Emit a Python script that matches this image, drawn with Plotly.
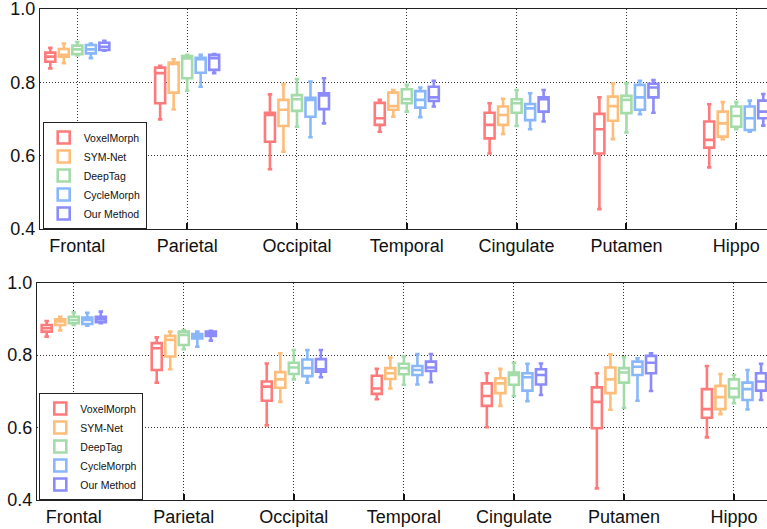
import plotly.graph_objects as go

categories = ["Frontal", "Parietal", "Occipital", "Temporal", "Cingulate", "Putamen", "Hippo"]
methods = ["VoxelMorph", "SYM-Net", "DeepTag", "CycleMorph", "Our Method"]
colors = ["#ff7b7b", "#ffbd7a", "#a3dca8", "#88b8fb", "#8b8bfb"]
y_ticks = [0.4, 0.6, 0.8, 1.0]

# ---- top panel (rows = methods, columns = regions) ----
top_upper = [
    [0.894, 0.845, 0.767, 0.752, 0.743, 0.759, 0.740],
    [0.906, 0.863, 0.795, 0.779, 0.755, 0.797, 0.746],
    [0.910, 0.875, 0.809, 0.793, 0.779, 0.797, 0.746],
    [0.906, 0.875, 0.802, 0.786, 0.770, 0.804, 0.750],
    [0.913, 0.877, 0.811, 0.804, 0.779, 0.806, 0.768],
]
top_q3 = [
    [0.881, 0.840, 0.717, 0.744, 0.717, 0.714, 0.693],
    [0.891, 0.854, 0.752, 0.772, 0.734, 0.761, 0.720],
    [0.900, 0.872, 0.765, 0.781, 0.754, 0.763, 0.734],
    [0.902, 0.867, 0.758, 0.776, 0.741, 0.793, 0.734],
    [0.908, 0.875, 0.770, 0.788, 0.759, 0.796, 0.750],
]
top_median = [
    [0.870, 0.825, 0.711, 0.702, 0.684, 0.672, 0.643],
    [0.875, 0.850, 0.725, 0.735, 0.711, 0.735, 0.688],
    [0.890, 0.865, 0.754, 0.754, 0.743, 0.752, 0.708],
    [0.890, 0.863, 0.752, 0.752, 0.729, 0.759, 0.702],
    [0.897, 0.866, 0.764, 0.759, 0.754, 0.786, 0.720],
]
top_q1 = [
    [0.856, 0.743, 0.638, 0.684, 0.647, 0.606, 0.622],
    [0.870, 0.772, 0.681, 0.725, 0.684, 0.695, 0.652],
    [0.877, 0.811, 0.722, 0.743, 0.717, 0.716, 0.679],
    [0.879, 0.826, 0.706, 0.731, 0.697, 0.725, 0.670],
    [0.888, 0.834, 0.727, 0.749, 0.720, 0.759, 0.702],
]
top_lower = [
    [0.838, 0.699, 0.563, 0.665, 0.606, 0.454, 0.568],
    [0.852, 0.726, 0.611, 0.706, 0.659, 0.645, 0.645],
    [0.873, 0.777, 0.679, 0.720, 0.681, 0.663, 0.672],
    [0.866, 0.788, 0.650, 0.705, 0.672, 0.713, 0.665],
    [0.886, 0.825, 0.688, 0.734, 0.693, 0.717, 0.682],
]

# ---- bottom panel ----
bot_upper = [
    [0.894, 0.849, 0.777, 0.762, 0.750, 0.750, 0.770],
    [0.906, 0.865, 0.805, 0.793, 0.762, 0.802, 0.748],
    [0.918, 0.869, 0.814, 0.796, 0.779, 0.794, 0.745],
    [0.917, 0.865, 0.814, 0.803, 0.776, 0.791, 0.759],
    [0.920, 0.867, 0.814, 0.803, 0.777, 0.805, 0.776],
]
bot_q3 = [
    [0.883, 0.833, 0.727, 0.743, 0.722, 0.711, 0.706],
    [0.899, 0.853, 0.753, 0.764, 0.736, 0.766, 0.715],
    [0.906, 0.865, 0.779, 0.776, 0.752, 0.764, 0.733],
    [0.904, 0.858, 0.788, 0.770, 0.750, 0.782, 0.724],
    [0.906, 0.865, 0.789, 0.782, 0.761, 0.798, 0.750],
]
bot_median = [
    [0.874, 0.819, 0.713, 0.708, 0.687, 0.671, 0.651],
    [0.893, 0.842, 0.733, 0.750, 0.722, 0.733, 0.684],
    [0.897, 0.856, 0.766, 0.764, 0.745, 0.752, 0.708],
    [0.897, 0.853, 0.764, 0.759, 0.739, 0.768, 0.706],
    [0.899, 0.860, 0.761, 0.766, 0.745, 0.779, 0.727],
]
bot_q1 = [
    [0.865, 0.759, 0.674, 0.693, 0.660, 0.598, 0.627],
    [0.883, 0.796, 0.710, 0.734, 0.695, 0.695, 0.651],
    [0.888, 0.828, 0.748, 0.747, 0.718, 0.724, 0.684],
    [0.886, 0.846, 0.742, 0.745, 0.702, 0.745, 0.676],
    [0.891, 0.853, 0.754, 0.756, 0.719, 0.750, 0.702],
]
bot_lower = [
    [0.851, 0.724, 0.606, 0.678, 0.601, 0.432, 0.573],
    [0.868, 0.761, 0.671, 0.708, 0.660, 0.649, 0.637],
    [0.883, 0.816, 0.733, 0.718, 0.687, 0.654, 0.667],
    [0.881, 0.823, 0.724, 0.719, 0.673, 0.674, 0.650],
    [0.888, 0.840, 0.739, 0.725, 0.690, 0.701, 0.676],
]

FONT = "Liberation Sans, Arial, sans-serif"
fig = go.Figure()

panels = [
    ("x", "y", "legend", top_upper, top_q3, top_median, top_q1, top_lower),
    ("x2", "y2", "legend2", bot_upper, bot_q3, bot_median, bot_q1, bot_lower),
]
for xa, ya, lg, up, q3, med, q1, lo in panels:
    for i, m in enumerate(methods):
        fig.add_trace(go.Box(
            x=categories, q1=q1[i], median=med[i], q3=q3[i],
            lowerfence=lo[i], upperfence=up[i],
            name=m, offsetgroup=m, xaxis=xa, yaxis=ya, legend=lg,
            line=dict(color=colors[i], width=2.6),
            fillcolor="rgba(255,255,255,1)", marker_color=colors[i],
            whiskerwidth=0.45, boxpoints=False, showlegend=True,
        ))

axis_common = dict(
    showline=True, linecolor="#222", linewidth=1.3,
    showgrid=True, gridcolor="#333", griddash="1px,2px", gridwidth=1,
    zeroline=False, tickfont=dict(family=FONT, size=18, color="#111"),
    ticklabeloverflow="allow",
)
L, PW = 37, 730
fig.update_layout(
    width=767, height=529,
    margin=dict(l=L, r=0, t=9, b=29),
    paper_bgcolor="white", plot_bgcolor="white",
    boxmode="group", boxgap=0.385, boxgroupgap=0.26,
    font=dict(family=FONT, color="#111"),
    xaxis=dict(domain=[(40 - L) / PW, 1], anchor="y", range=[-0.34, 6.28],
               mirror=True, ticks="inside", ticklen=6, tickwidth=1.5, tickcolor="#111",
               **axis_common),
    yaxis=dict(domain=[0.552, 1.0], anchor="x", range=[0.4, 1.0],
               tickvals=y_ticks, tickformat=".1f", ticks="", **axis_common),
    xaxis2=dict(domain=[0.0, 1], anchor="y2", range=[-0.334, 6.30],
                mirror=True, ticks="inside", ticklen=6, tickwidth=1.5, tickcolor="#111",
                **axis_common),
    yaxis2=dict(domain=[0.0, 0.4426], anchor="x2", range=[0.4, 1.0],
                tickvals=y_ticks, tickformat=".1f", ticks="", **axis_common),
    legend=dict(x=(42.7 - L) / PW, y=0.552, xanchor="left", yanchor="bottom",
                bgcolor="white", bordercolor="#222", borderwidth=1,
                font=dict(family=FONT, size=10.5, color="#111")),
    legend2=dict(x=(39.3 - L) / PW, y=0.0, xanchor="left", yanchor="bottom",
                 bgcolor="white", bordercolor="#222", borderwidth=1,
                 font=dict(family=FONT, size=10.5, color="#111")),
)

fig.write_html("out.html", config={"displayModeBar": False},
               post_script="document.body.style.margin='0';document.body.style.overflow='hidden';")
